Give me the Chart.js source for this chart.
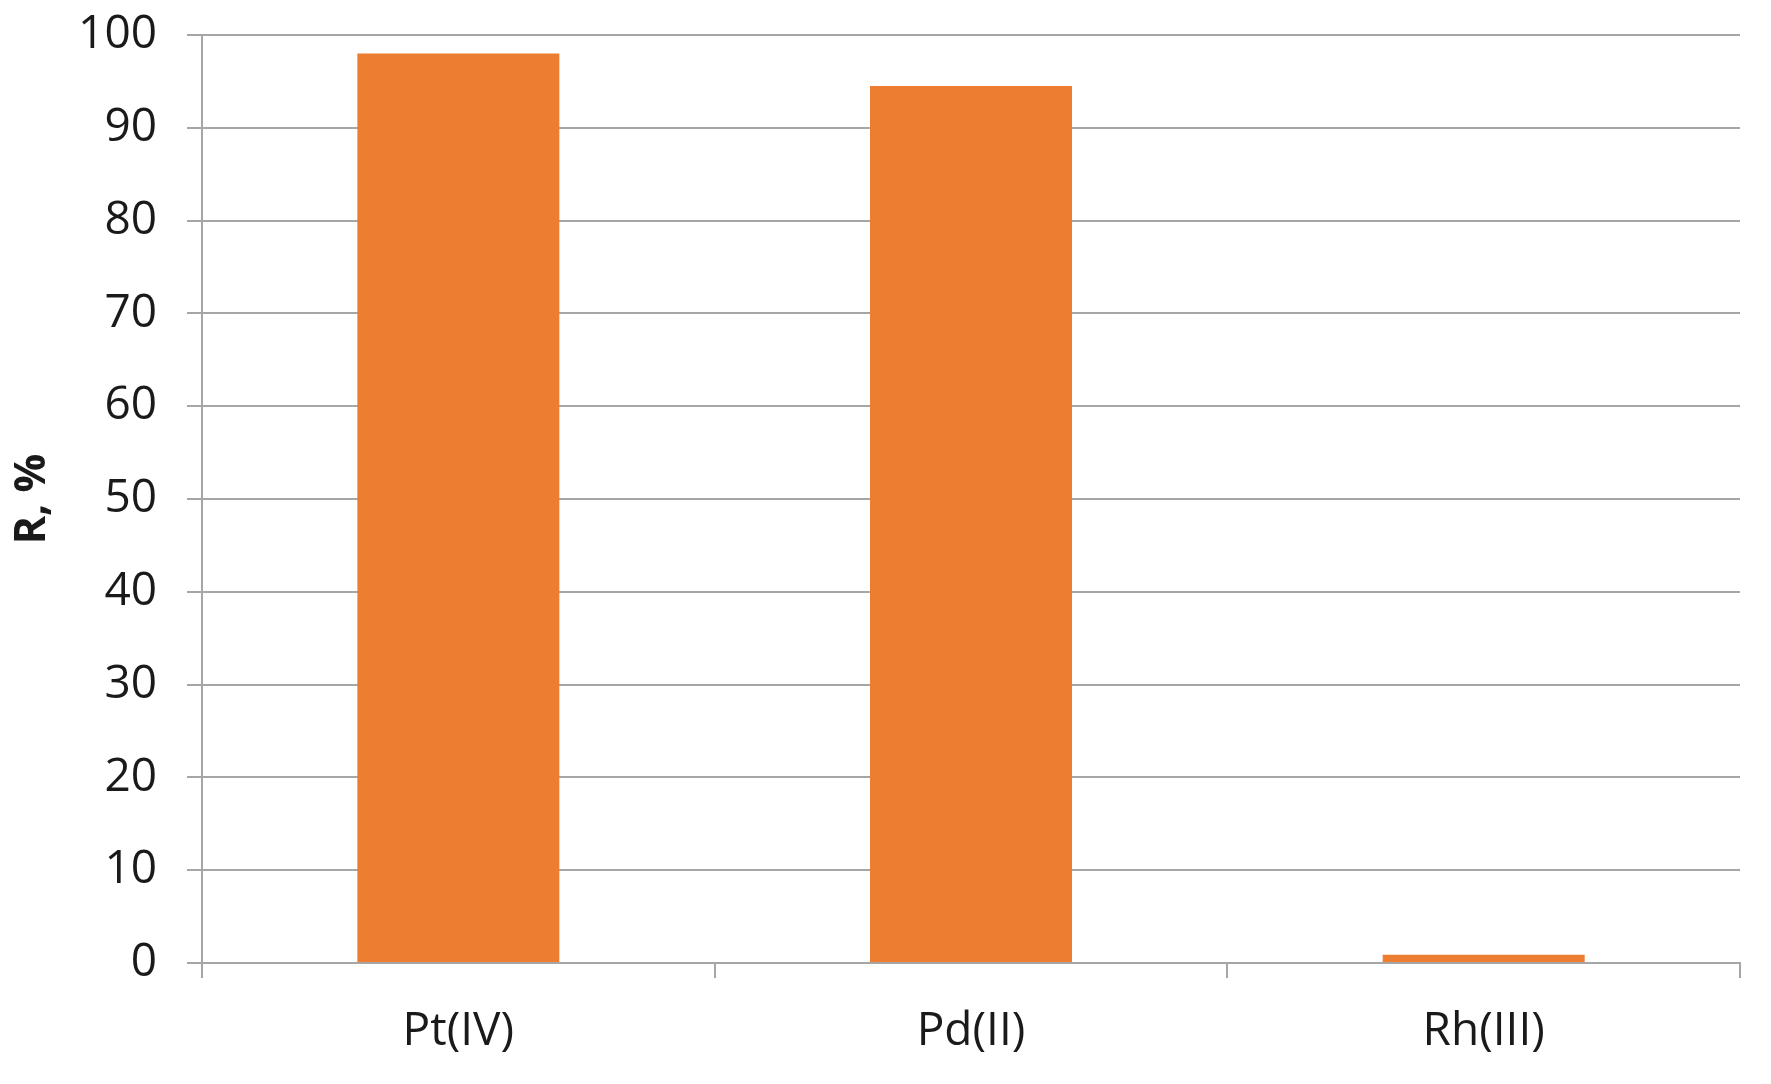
<!DOCTYPE html>
<html>
<head>
<meta charset="utf-8">
<script src="https://cdn.jsdelivr.net/npm/chart.js@4/dist/chart.umd.min.js"></script>
<style>
  html, body { margin: 0; padding: 0; background: #fff; }
  #wrap { width: 1771px; height: 1084px; }
</style>
</head>
<body>
<div id="wrap"><canvas id="barChart" width="1771" height="1084"></canvas></div>
<script>
// categories and values
const labels = ["Pt(IV)", "Pd(II)", "Rh(III)"];
const recovery = [98, 94.5, 0.9];
const yTicks = [0, 10, 20, 30, 40, 50, 60, 70, 80, 90, 100];

const GRID = '#a6a6a6';
Chart.defaults.font.family = "'Open Sans', 'DejaVu Sans', sans-serif";
Chart.defaults.color = '#1a1a1a';

const CHART = document.getElementById('barChart');
let barChart = new Chart(CHART, {
    type: 'bar',
    data: {
        labels: labels,
        datasets: [
        {
          label: "R, %",
          backgroundColor: '#ED7D31',
          borderWidth: 0,
          barPercentage: 0.394,
          categoryPercentage: 1,
          data: recovery,
        }
      ]
    },
    options: {
      responsive: false,
      animation: false,
      layout: { padding: { top: 35, right: 31, left: 0, bottom: 0 } },
      plugins: {
        legend: { display: false },
        tooltip: { enabled: false }
      },
      scales: {
        x: {
          grid: {
            offset: true,
            drawOnChartArea: false,
            drawTicks: true,
            tickLength: 15,
            color: GRID,
            lineWidth: 2
          },
          border: { color: GRID, width: 2 },
          ticks: { font: { size: 46 }, padding: 26, maxRotation: 0 },
          afterFit: (scale) => {
            scale.height = 121;
            scale.paddingLeft = 0;
            scale.paddingRight = 0;
          }
        },
        y: {
          min: 0,
          max: 100,
          afterBuildTicks: (scale) => { scale.ticks = yTicks.map(v => ({ value: v })); },
          grid: {
            color: GRID,
            lineWidth: 2,
            tickLength: 15
          },
          border: { color: GRID, width: 2 },
          ticks: { font: { size: 46 }, padding: 30 },
          title: {
            display: true,
            text: 'R, %',
            font: { size: 43, weight: 'bold' },
            padding: { top: 7, bottom: 0 }
          },
          afterFit: (scale) => {
            scale.width = 202;
            scale.paddingTop = 0;
            scale.paddingBottom = 0;
          }
        }
      }
    }
});
</script>
</body>
</html>
